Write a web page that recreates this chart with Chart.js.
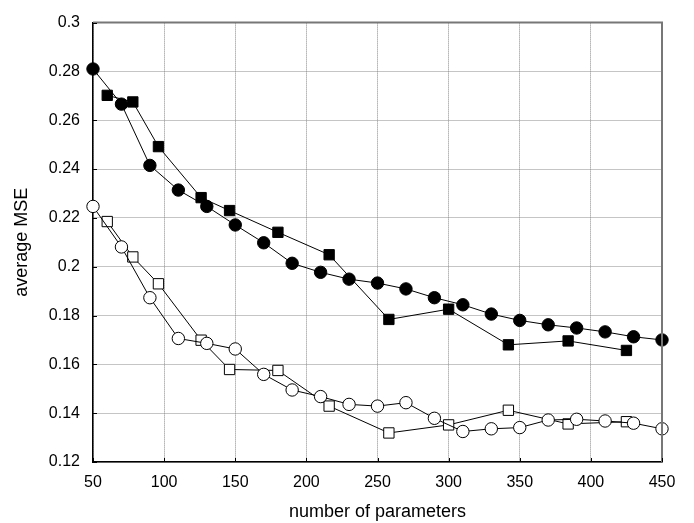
<!DOCTYPE html>
<html>
<head>
<meta charset="utf-8">
<script src="https://cdn.jsdelivr.net/npm/chart.js@4.4.0/dist/chart.umd.min.js"></script>
<style>
  html, body { margin: 0; padding: 0; background: #fff; }
  .wrap { width: 694px; height: 523px; }
</style>
</head>
<body>
<div class="wrap"><canvas id="chart" width="694" height="523"></canvas></div>
<script>
// x positions of the two sample sets
const circle_x = [50, 70, 90, 110, 130, 150, 170, 190, 210, 230, 250, 270, 290, 310, 330, 350, 370, 390, 410, 430, 450];
const square_x = [60, 78, 96, 126, 146, 180, 216, 258, 300, 342, 384, 425];

// average MSE values
const filled_circles = [0.281, 0.2666, 0.2415, 0.2314, 0.2247, 0.2171, 0.2098, 0.2014, 0.1977, 0.1949, 0.1933, 0.1909, 0.1873, 0.1844, 0.1806, 0.178, 0.1762, 0.1749, 0.1733, 0.1713, 0.17];
const filled_squares = [0.2702, 0.2675, 0.2492, 0.2283, 0.223, 0.2141, 0.2049, 0.1784, 0.1826, 0.168, 0.1696, 0.1657];
const open_circles = [0.2247, 0.2081, 0.1873, 0.1706, 0.1686, 0.1663, 0.1559, 0.1495, 0.1468, 0.1436, 0.1429, 0.1443, 0.1379, 0.1325, 0.1336, 0.1341, 0.1372, 0.1375, 0.1368, 0.1359, 0.1336];
const open_squares = [0.2185, 0.204, 0.193, 0.1699, 0.1579, 0.1575, 0.1429, 0.1319, 0.1352, 0.1412, 0.1356, 0.1365];

const x_ticks = [50, 100, 150, 200, 250, 300, 350, 400, 450];
const y_ticks = [0.12, 0.14, 0.16, 0.18, 0.2, 0.22, 0.24, 0.26, 0.28, 0.3];
const y_tick_labels = ["0.12", "0.14", "0.16", "0.18", "0.2", "0.22", "0.24", "0.26", "0.28", "0.3"];

const FONT = "'Liberation Sans', Arial, sans-serif";

function points(xs, ys) {
  return xs.map((x, i) => ({ x: x, y: ys[i] }));
}

function series(label, xs, ys, shape, filled) {
  return {
    label: label,
    data: points(xs, ys),
    borderColor: "#000",
    borderWidth: 1,
    pointStyle: shape,
    pointRadius: shape === "rect" ? 7.3 : 6.2,
    pointBackgroundColor: filled ? "#000" : "#fff",
    pointBorderColor: "#000",
    pointBorderWidth: 1,
    tension: 0,
    fill: false,
  };
}

// gray frame on top and right, small inward ticks
const framePlugin = {
  id: "frame",
  afterDatasetsDraw(chart) {
    const { ctx, chartArea: a, scales } = chart;
    ctx.save();
    ctx.strokeStyle = "#777";
    ctx.lineWidth = 2;
    ctx.beginPath();
    ctx.moveTo(a.left, a.top);
    ctx.lineTo(a.right, a.top);
    ctx.lineTo(a.right, a.bottom);
    ctx.stroke();
    ctx.strokeStyle = "#000";
    ctx.lineWidth = 1;
    ctx.beginPath();
    x_ticks.forEach((v) => {
      const px = Math.round(scales.x.getPixelForValue(v)) + 0.5;
      ctx.moveTo(px, a.bottom);
      ctx.lineTo(px, a.bottom - 4);
    });
    y_ticks.forEach((v) => {
      const py = Math.round(scales.y.getPixelForValue(v)) + 0.5;
      ctx.moveTo(a.left, py);
      ctx.lineTo(a.left + 4, py);
    });
    ctx.stroke();
    ctx.restore();
  },
};

new Chart(document.getElementById("chart"), {
  type: "line",
  data: {
    datasets: [
      series("filled circles", circle_x, filled_circles, "circle", true),
      series("open circles", circle_x, open_circles, "circle", false),
      series("filled squares", square_x, filled_squares, "rect", true),
      series("open squares", square_x, open_squares, "rect", false),
    ],
  },
  options: {
    responsive: false,
    animation: false,
    clip: false,
    layout: { padding: { top: 14, right: 32, bottom: 0, left: 0 } },
    plugins: {
      legend: { display: false },
      tooltip: { enabled: false },
    },
    scales: {
      x: {
        type: "linear",
        min: 50,
        max: 450,
        afterBuildTicks: (scale) => {
          scale.ticks = x_ticks.map((v) => ({ value: v }));
        },
        afterFit: (scale) => {
          scale.height = 61;
        },
        grid: {
          color: "#8a8a8a",
          lineWidth: 1,
          drawTicks: false,
        },
        border: { color: "#000", width: 1.5, dash: [1, 1] },
        ticks: {
          color: "#000",
          padding: 11,
          maxRotation: 0,
          font: { family: FONT, size: 16 },
        },
        title: {
          display: true,
          text: "number of parameters",
          color: "#000",
          padding: { top: 0, bottom: 0 },
          font: { family: FONT, size: 18 },
        },
      },
      y: {
        type: "linear",
        min: 0.12,
        max: 0.3,
        afterBuildTicks: (scale) => {
          scale.ticks = y_ticks.map((v) => ({ value: v }));
        },
        afterFit: (scale) => {
          scale.width = 93;
        },
        grid: {
          color: "#8a8a8a",
          lineWidth: 1,
          drawTicks: false,
        },
        border: { color: "#000", width: 1.5, dash: [1, 1] },
        ticks: {
          color: "#000",
          padding: 13,
          font: { family: FONT, size: 16 },
          callback: (value, index) => y_tick_labels[index],
        },
        title: {
          display: true,
          text: "average MSE",
          color: "#000",
          padding: { top: 11, bottom: 11 },
          font: { family: FONT, size: 18 },
        },
      },
    },
  },
  plugins: [framePlugin],
});
</script>
</body>
</html>
